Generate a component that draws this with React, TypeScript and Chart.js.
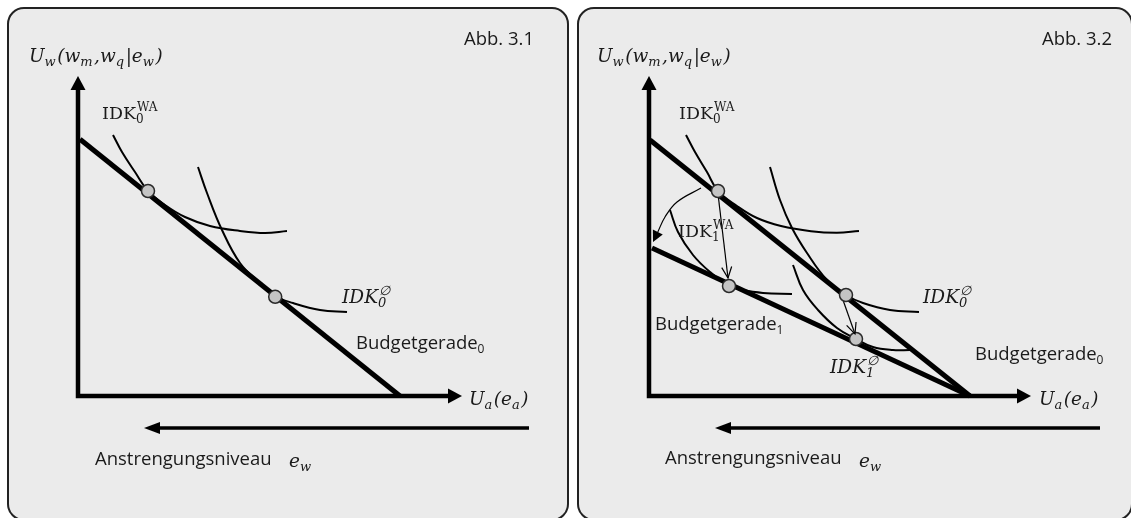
import React, { useEffect, useRef } from 'react';
import { Chart, registerables } from 'chart.js';
Chart.register(...registerables);

type P = { x: number; y: number };
type Run = { t: string; sub?: string; sup?: string };
type Label = { x: number; y: number; runs: Run[]; style: 'sans' | 'serif' | 'math' };

// ---------------- Panel 1 (Abb. 3.1) ----------------
const p1Axes: P[] = [{ x: 0, y: 7.65 }, { x: 0, y: 0 }, { x: 9.25, y: 0 }];
const p1Budget0: P[] = [{ x: 0.05, y: 6.42 }, { x: 8.05, y: 0 }];
const p1IdkWA0: P[] = [
  { x: 0.875, y: 6.525 }, { x: 1.1, y: 6.1 }, { x: 1.425, y: 5.6 }, { x: 1.75, y: 5.125 },
  { x: 2.175, y: 4.775 }, { x: 2.675, y: 4.475 }, { x: 3.3, y: 4.25 }, { x: 4.05, y: 4.125 },
  { x: 4.675, y: 4.075 }, { x: 5.225, y: 4.125 },
];
const p1IdkAvg0: P[] = [
  { x: 3.0, y: 5.725 }, { x: 3.225, y: 5.075 }, { x: 3.6, y: 4.15 }, { x: 4.05, y: 3.325 },
  { x: 4.55, y: 2.825 }, { x: 4.925, y: 2.5 }, { x: 5.375, y: 2.325 }, { x: 6.05, y: 2.15 },
  { x: 6.725, y: 2.1 },
];
const p1Optima: P[] = [{ x: 1.75, y: 5.125 }, { x: 4.93, y: 2.48 }];
const p1Effort: P[] = [{ x: 11.275, y: -0.8 }, { x: 2.05, y: -0.8 }];

// ---------------- Panel 2 (Abb. 3.2) ----------------
const p2Axes: P[] = [{ x: 0, y: 7.65 }, { x: 0, y: 0 }, { x: 9.2, y: 0 }];
const p2Budget0: P[] = [{ x: 0.025, y: 6.4 }, { x: 8.025, y: 0 }];
const p2Budget1: P[] = [{ x: 0.075, y: 3.7 }, { x: 8.025, y: 0 }];
const p2IdkWA0: P[] = [
  { x: 0.925, y: 6.525 }, { x: 1.15, y: 6.1 }, { x: 1.45, y: 5.6 }, { x: 1.725, y: 5.125 },
  { x: 2.2, y: 4.75 }, { x: 2.7, y: 4.45 }, { x: 3.3, y: 4.25 }, { x: 4.05, y: 4.12 },
  { x: 4.7, y: 4.08 }, { x: 5.25, y: 4.125 },
];
const p2IdkAvg0: P[] = [
  { x: 3.025, y: 5.725 }, { x: 3.275, y: 4.9 }, { x: 3.575, y: 4.2 }, { x: 3.95, y: 3.575 },
  { x: 4.45, y: 2.9 }, { x: 4.925, y: 2.525 }, { x: 5.35, y: 2.325 }, { x: 6.025, y: 2.15 },
  { x: 6.75, y: 2.1 },
];
const p2IdkWA1: P[] = [
  { x: 0.525, y: 4.65 }, { x: 0.725, y: 4.1 }, { x: 1.1, y: 3.525 }, { x: 1.525, y: 3.1 },
  { x: 2.0, y: 2.75 }, { x: 2.3, y: 2.66 }, { x: 2.85, y: 2.575 }, { x: 3.575, y: 2.55 },
];
const p2IdkAvg1: P[] = [
  { x: 3.6, y: 3.275 }, { x: 3.85, y: 2.65 }, { x: 4.225, y: 2.15 }, { x: 4.7, y: 1.7 },
  { x: 5.175, y: 1.425 }, { x: 5.6, y: 1.225 }, { x: 6.1, y: 1.15 }, { x: 6.525, y: 1.15 },
];
const p2Optima: P[] = [
  { x: 1.725, y: 5.125 }, { x: 2.0, y: 2.75 }, { x: 4.925, y: 2.525 }, { x: 5.175, y: 1.425 },
];
const p2ShiftWA: P[] = [{ x: 1.725, y: 5.05 }, { x: 1.975, y: 2.95 }];
const p2ShiftAvg: P[] = [{ x: 4.85, y: 2.4 }, { x: 5.15, y: 1.55 }];
const p2Rotate: P[] = [{ x: 1.3, y: 5.2 }, { x: 0.7, y: 4.85 }, { x: 0.4, y: 4.475 }, { x: 0.22, y: 4.1 }];
const p2Effort: P[] = [{ x: 11.275, y: -0.8 }, { x: 2.05, y: -0.8 }];

// ---------------- Text ----------------
const utilW: Run[] = [{ t: 'U', sub: 'w' }, { t: '(w', sub: 'm' }, { t: ',w', sub: 'q' }, { t: '|e', sub: 'w' }, { t: ')' }];
const utilA: Run[] = [{ t: 'U', sub: 'a' }, { t: '(e', sub: 'a' }, { t: ')' }];
const effortVar: Run[] = [{ t: 'e', sub: 'w' }];

const p1Labels: Label[] = [
  { x: -1.225, y: 8.35, runs: utilW, style: 'math' },
  { x: 9.65, y: 8.775, runs: [{ t: 'Abb. 3.1' }], style: 'sans' },
  { x: 0.6, y: 6.925, runs: [{ t: 'IDK', sub: '0', sup: 'WA' }], style: 'serif' },
  { x: 6.6, y: 2.325, runs: [{ t: 'IDK', sub: '0', sup: '∅' }], style: 'math' },
  { x: 6.95, y: 1.175, runs: [{ t: 'Budgetgerade', sub: '0' }], style: 'sans' },
  { x: 9.775, y: -0.225, runs: utilA, style: 'math' },
  { x: 0.425, y: -1.725, runs: [{ t: 'Anstrengungsniveau' }], style: 'sans' },
  { x: 5.275, y: -1.775, runs: effortVar, style: 'math' },
];
const p2Labels: Label[] = [
  { x: -1.3, y: 8.35, runs: utilW, style: 'math' },
  { x: 9.825, y: 8.775, runs: [{ t: 'Abb. 3.2' }], style: 'sans' },
  { x: 0.75, y: 6.925, runs: [{ t: 'IDK', sub: '0', sup: 'WA' }], style: 'serif' },
  { x: 0.725, y: 3.975, runs: [{ t: 'IDK', sub: '1', sup: 'WA' }], style: 'serif' },
  { x: 0.15, y: 1.65, runs: [{ t: 'Budgetgerade', sub: '1' }], style: 'sans' },
  { x: 6.85, y: 2.325, runs: [{ t: 'IDK', sub: '0', sup: '∅' }], style: 'math' },
  { x: 4.525, y: 0.575, runs: [{ t: 'IDK', sub: '1', sup: '∅' }], style: 'math' },
  { x: 8.15, y: 0.9, runs: [{ t: 'Budgetgerade', sub: '0' }], style: 'sans' },
  { x: 9.75, y: -0.225, runs: utilA, style: 'math' },
  { x: 0.4, y: -1.7, runs: [{ t: 'Anstrengungsniveau' }], style: 'sans' },
  { x: 5.25, y: -1.775, runs: effortVar, style: 'math' },
];

// ---------------- Styling & drawing ----------------
const SANS = '"Open Sans", sans-serif';
const SERIF = '"DejaVu Serif", serif';
const TEXT = '#1a1a1a';
const SIZE = { sans: 18.5, serif: 17.5, math: 18.5 };

function fontFor(style: Label['style'], size: number) {
  if (style === 'sans') return `${size}px ${SANS}`;
  if (style === 'serif') return `${size}px ${SERIF}`;
  return `italic ${size}px ${SERIF}`;
}

function drawRich(ctx: CanvasRenderingContext2D, lab: Label, px: number, py: number) {
  const base = SIZE[lab.style];
  const small = Math.round(base * (lab.style === 'sans' ? 0.64 : 0.7));
  let cx = px;
  ctx.fillStyle = TEXT;
  ctx.textBaseline = 'alphabetic';
  ctx.textAlign = 'left';
  for (const r of lab.runs) {
    ctx.font = fontFor(lab.style, base);
    if (r.t) {
      ctx.fillText(r.t, cx, py);
      cx += ctx.measureText(r.t).width;
    }
    ctx.font = fontFor(lab.style, small);
    let w = 0;
    if (r.sub) {
      ctx.fillText(r.sub, cx, py + base * 0.24);
      w = Math.max(w, ctx.measureText(r.sub).width);
    }
    if (r.sup) {
      ctx.fillText(r.sup, cx + 1, py - base * 0.45);
      w = Math.max(w, ctx.measureText(r.sup).width + 1);
    }
    cx += w + (r.sub || r.sup ? 1.5 : 0);
  }
}

type Head = { len: number; half: number; fill: boolean; beyond: boolean };

function headAt(ctx: CanvasRenderingContext2D, end: { x: number; y: number }, from: { x: number; y: number }, h: Head, width: number) {
  const ang = Math.atan2(end.y - from.y, end.x - from.x);
  const ux = Math.cos(ang), uy = Math.sin(ang);
  const tip = h.beyond ? { x: end.x + ux * h.len, y: end.y + uy * h.len } : end;
  const bx = tip.x - ux * h.len, by = tip.y - uy * h.len;
  const l = { x: bx - uy * h.half, y: by + ux * h.half };
  const r = { x: bx + uy * h.half, y: by - ux * h.half };
  ctx.save();
  ctx.strokeStyle = '#000';
  ctx.fillStyle = '#000';
  ctx.lineWidth = width;
  ctx.beginPath();
  if (h.fill) {
    ctx.moveTo(tip.x, tip.y);
    ctx.lineTo(l.x, l.y);
    ctx.lineTo(r.x, r.y);
    ctx.closePath();
    ctx.fill();
  } else {
    ctx.moveTo(l.x, l.y);
    ctx.lineTo(tip.x, tip.y);
    ctx.lineTo(r.x, r.y);
    ctx.stroke();
  }
  ctx.restore();
}

const arrowPlugin = {
  id: 'arrowHeads',
  afterDatasetsDraw(chart: any) {
    const ctx = chart.ctx as CanvasRenderingContext2D;
    chart.data.datasets.forEach((ds: any, i: number) => {
      if (!ds.heads) return;
      const pts = chart.getDatasetMeta(i).data as any[];
      const n = pts.length;
      if (n < 2) return;
      const w = ds.borderWidth || 1;
      const prevOf = (p: any, cpx: number, cpy: number, alt: any) =>
        cpx !== undefined && Math.hypot(p.x - cpx, p.y - cpy) > 0.5 ? { x: cpx, y: cpy } : { x: alt.x, y: alt.y };
      if (ds.heads.end) {
        const last = pts[n - 1];
        headAt(ctx, last, prevOf(last, last.cp1x, last.cp1y, pts[n - 2]), ds.heads.end, w);
      }
      if (ds.heads.start) {
        const first = pts[0];
        headAt(ctx, first, prevOf(first, first.cp2x, first.cp2y, pts[1]), ds.heads.start, w);
      }
    });
  },
};

function textPlugin(labels: Label[]) {
  return {
    id: 'richText',
    afterDraw(chart: any) {
      const ctx = chart.ctx as CanvasRenderingContext2D;
      const xs = chart.scales.x, ys = chart.scales.y;
      ctx.save();
      for (const lab of labels) drawRich(ctx, lab, xs.getPixelForValue(lab.x), ys.getPixelForValue(lab.y));
      ctx.restore();
    },
  };
}

const AXIS_HEAD: Head = { len: 14, half: 7.5, fill: true, beyond: true };
const EFFORT_HEAD: Head = { len: 16, half: 6, fill: true, beyond: true };
const OPEN_HEAD: Head = { len: 11, half: 5, fill: false, beyond: false };
const CURVE_HEAD: Head = { len: 11, half: 5.5, fill: true, beyond: true };

function line(data: P[], width: number, extra: any = {}) {
  return {
    data,
    showLine: true,
    borderColor: '#000',
    backgroundColor: '#000',
    borderWidth: width,
    pointRadius: 0,
    tension: 0,
    borderCapStyle: 'butt',
    borderJoinStyle: 'miter',
    order: 5,
    ...extra,
  };
}

function dots(data: P[]) {
  return {
    data,
    showLine: false,
    pointRadius: 6.5,
    pointBackgroundColor: '#c4c4c4',
    pointBorderColor: '#2a2a2a',
    pointBorderWidth: 1.5,
    order: 0,
  };
}

function config(datasets: any[], labels: Label[], xr: [number, number], yr: [number, number]) {
  return {
    type: 'scatter',
    data: { datasets },
    options: {
      animation: false,
      responsive: false,
      maintainAspectRatio: false,
      events: [],
      layout: { padding: 0, autoPadding: false },
      plugins: { legend: { display: false }, tooltip: { enabled: false } },
      scales: {
        x: { type: 'linear', display: false, min: xr[0], max: xr[1] },
        y: { type: 'linear', display: false, min: yr[0], max: yr[1] },
      },
    },
    plugins: [arrowPlugin, textPlugin(labels)],
  } as any;
}

export default function App() {
  const c1 = useRef<HTMLCanvasElement>(null);
  const c2 = useRef<HTMLCanvasElement>(null);

  useEffect(() => {
    const ch1 = new Chart(
      c1.current!,
      config(
        [
          dots(p1Optima),
          line(p1Axes, 4.5, { heads: { start: AXIS_HEAD, end: AXIS_HEAD } }),
          line(p1Budget0, 5),
          line(p1IdkWA0, 2, { tension: 0.4 }),
          line(p1IdkAvg0, 2, { tension: 0.4 }),
          line(p1Effort, 3.5, { heads: { end: EFFORT_HEAD } }),
        ],
        p1Labels,
        [-1.775, 12.275],
        [-3.125, 9.725]
      )
    );
    const ch2 = new Chart(
      c2.current!,
      config(
        [
          dots(p2Optima),
          line(p2Axes, 4.5, { heads: { start: AXIS_HEAD, end: AXIS_HEAD } }),
          line(p2Budget0, 5),
          line(p2Budget1, 5),
          line(p2IdkWA0, 2, { tension: 0.4 }),
          line(p2IdkAvg0, 2, { tension: 0.4 }),
          line(p2IdkWA1, 2, { tension: 0.4 }),
          line(p2IdkAvg1, 2, { tension: 0.4 }),
          line(p2ShiftWA, 1.2, { heads: { end: OPEN_HEAD } }),
          line(p2ShiftAvg, 1.2, { heads: { end: OPEN_HEAD } }),
          line(p2Rotate, 1.2, { tension: 0.4, heads: { end: CURVE_HEAD } }),
          line(p2Effort, 3.5, { heads: { end: EFFORT_HEAD } }),
        ],
        p2Labels,
        [-1.8, 12.1],
        [-3.125, 9.725]
      )
    );
    return () => {
      ch1.destroy();
      ch2.destroy();
    };
  }, []);

  const panel = (left: number, width: number): React.CSSProperties => ({
    position: 'absolute',
    left,
    top: 7,
    width,
    height: 514,
    boxSizing: 'border-box',
    border: '2px solid #222',
    borderRadius: 17,
    background: '#ebebeb',
  });
  const cv = (left: number, width: number): React.CSSProperties => ({
    position: 'absolute',
    left,
    top: 7,
    width,
    height: 514,
  });

  return (
    <div style={{ position: 'fixed', left: 0, top: 0, width: 1131, height: 518, overflow: 'hidden', background: '#fff' }}>
      <div style={panel(7, 562)} />
      <div style={panel(577, 556)} />
      <canvas ref={c1} width={562} height={514} style={cv(7, 562)} />
      <canvas ref={c2} width={556} height={514} style={cv(577, 556)} />
    </div>
  );
}
